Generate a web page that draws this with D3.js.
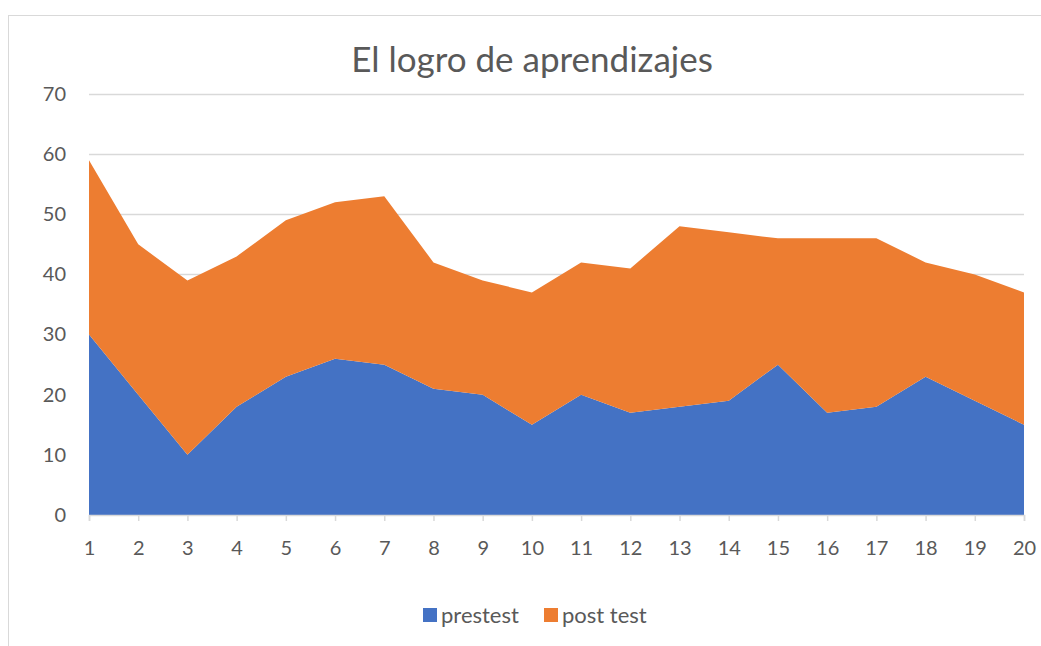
<!DOCTYPE html>
<html>
<head>
<meta charset="utf-8">
<script src="https://cdn.jsdelivr.net/npm/d3@7"></script>
<style>
  body { margin: 0; background: #fff; }
  text { font-family: Lato, "Open Sans", sans-serif; fill: #595959; }
</style>
</head>
<body>
<div id="chart"></div>
<script>
const width = 1041;
const height = 646;

// data
const students = d3.range(1, 21);
const prestest = [30, 20, 10, 18, 23, 26, 25, 21, 20, 15, 20, 17, 18, 19, 25, 17, 18, 23, 19, 15];
const postTest = [29, 25, 29, 25, 26, 26, 28, 21, 19, 22, 22, 24, 30, 28, 21, 29, 28, 19, 21, 22];
const seriesNames = ['prestest', 'post test'];
const yTicks = [0, 10, 20, 30, 40, 50, 60, 70];
const colors = ['#4472c4', '#ed7d31'];

const svg = d3.select('#chart')
    .append('svg')
    .attr('width', width)
    .attr('height', height);

// chart frame
svg.append('rect')
    .attr('x', 8.5)
    .attr('y', 15.5)
    .attr('width', 1040)
    .attr('height', 700)
    .attr('fill', '#fff')
    .attr('stroke', '#d9d9d9');

const x = d3.scaleLinear()
    .domain([1, 20])
    .range([89, 1024]);
const y = d3.scaleLinear()
    .domain([0, 70])
    .range([515, 94]);

const table = students.map((s, i) => ({ s: s, prestest: prestest[i], 'post test': postTest[i] }));
const stacked = d3.stack().keys(seriesNames)(table);

// gridlines
svg.append('g')
    .selectAll('line')
    .data(yTicks.slice(1))
    .enter()
    .append('line')
    .attr('x1', x(1))
    .attr('x2', x(20))
    .attr('y1', d => Math.round(y(d)) + 0.5)
    .attr('y2', d => Math.round(y(d)) + 0.5)
    .attr('stroke', '#d9d9d9')
    .attr('stroke-width', 1.5);

const area = d3.area()
    .x(d => x(d.data.s))
    .y0(d => y(d[0]))
    .y1(d => y(d[1]));

svg.append('g')
    .selectAll('path')
    .data(stacked)
    .enter()
    .append('path')
    .attr('d', area)
    .attr('fill', (d, i) => colors[i]);

// x axis
const xAxis = d3.axisBottom(x)
    .tickValues(students)
    .tickSize(6)
    .tickFormat(d3.format('d'));
const gx = svg.append('g')
    .attr('transform', `translate(0, ${y(0)})`)
    .call(xAxis);
gx.select('.domain').attr('stroke', '#d9d9d9').attr('stroke-width', 1.5);
gx.selectAll('.tick line').attr('stroke', '#d9d9d9').attr('stroke-width', 1.5);
gx.selectAll('.tick text')
    .attr('dy', 0)
    .attr('y', 40)
    .style('font-size', '20px')
    .attr('fill', '#595959');

// y axis
const yAxis = d3.axisLeft(y)
    .tickValues(yTicks)
    .tickSize(0)
    .tickPadding(23);
const gy = svg.append('g')
    .attr('transform', `translate(${x(1)}, 0)`)
    .call(yAxis);
gy.select('.domain').remove();
gy.selectAll('.tick text')
    .style('font-size', '20px')
    .attr('fill', '#595959');

// title
svg.append('text')
    .attr('x', 532)
    .attr('y', 72)
    .attr('text-anchor', 'middle')
    .style('font-size', '35px')
    .text('El logro de aprendizajes');

// legend
const legend = svg.append('g')
    .selectAll('g')
    .data(seriesNames)
    .enter()
    .append('g')
    .attr('transform', (d, i) => `translate(${[423, 544][i]}, 608)`);
legend.append('rect')
    .attr('width', 14)
    .attr('height', 14)
    .attr('fill', (d, i) => colors[i]);
legend.append('text')
    .attr('x', 18)
    .attr('y', 15)
    .style('font-size', '22px')
    .text(d => d);
</script>
</body>
</html>
